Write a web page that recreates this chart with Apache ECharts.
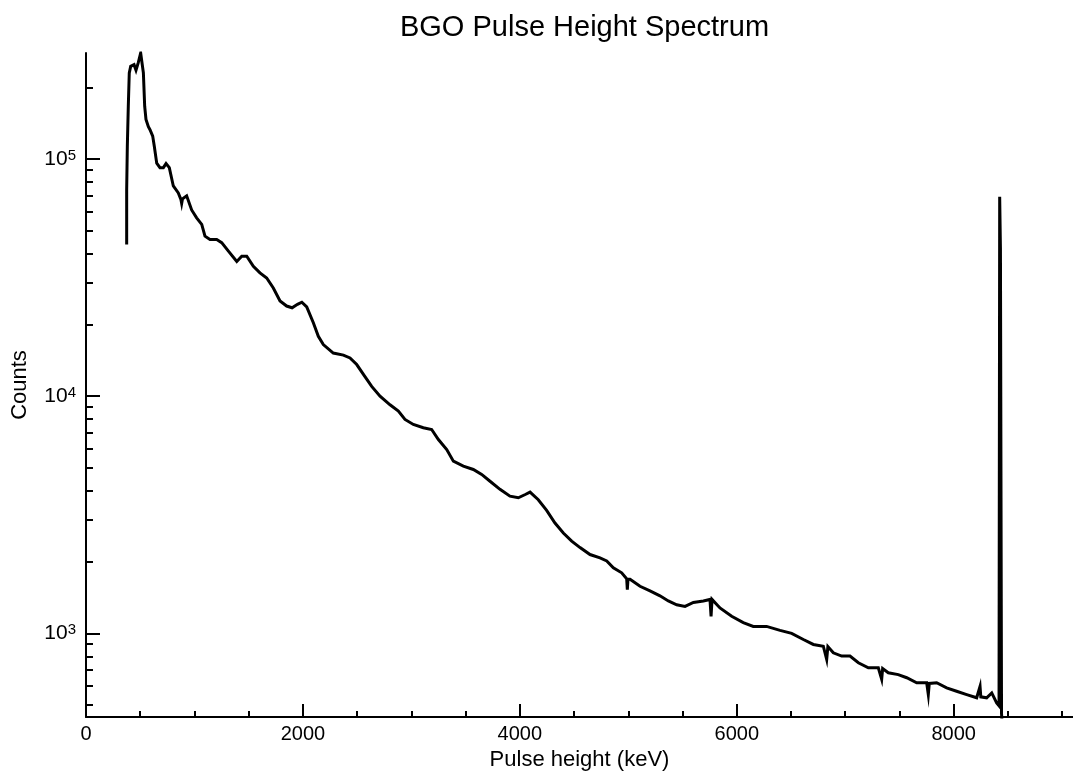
<!DOCTYPE html>
<html>
<head>
<meta charset="utf-8">
<title>BGO Pulse Height Spectrum</title>
<script src="https://cdn.jsdelivr.net/npm/echarts@6/dist/echarts.min.js"></script>
<style>
  html, body { margin: 0; padding: 0; background: #ffffff; }
  #chart { width: 1073px; height: 771px; }
</style>
</head>
<body>
<div id="chart"></div>
<script>
// Pulse-height bins (keV) and their counts
const energies = [
  375, 375, 381, 390, 399, 412, 421, 443, 461, 482, 504, 516, 529, 541, 553, 575, 590, 615, 630, 652,
  682, 713, 738, 768, 805, 851, 875, 882, 890, 928, 974, 1020, 1067, 1097, 1143, 1205, 1251, 1313, 1390, 1436,
  1482, 1543, 1604, 1666, 1727, 1789, 1850, 1900, 1950, 1990, 2035, 2096, 2142, 2188, 2280, 2373, 2434, 2496, 2572, 2634,
  2711, 2803, 2880, 2941, 3018, 3110, 3187, 3249, 3326, 3387, 3479, 3571, 3648, 3725, 3817, 3909, 3986, 4050, 4094, 4170,
  4247, 4324, 4401, 4478, 4555, 4647, 4739, 4801, 4862, 4939, 4985, 4991, 4997, 5016, 5108, 5200, 5292, 5369, 5446, 5523,
  5600, 5692, 5753, 5763, 5772, 5845, 5953, 6060, 6152, 6275, 6399, 6506, 6614, 6706, 6798, 6829, 6840, 6890, 6967, 7044,
  7121, 7213, 7305, 7336, 7345, 7397, 7489, 7567, 7659, 7751, 7766, 7775, 7843, 7935, 8027, 8120, 8212, 8243, 8250, 8304,
  8351, 8396, 8418, 8424, 8431, 8438, 8441, 8452
];
const counts = [
  43600, 74000, 113000, 167000, 231000, 246000, 250000, 250000, 237000, 255000, 280000, 282000, 231000, 167000, 147000, 137000, 133000, 125000, 113000, 96000,
  92000, 92000, 95700, 92000, 77000, 72000, 67500, 65000, 68000, 70000, 61000, 56500, 53000, 47300, 45800, 45800, 44400, 40900, 37000, 38900,
  38900, 35300, 33100, 31500, 28600, 25200, 24000, 23600, 24400, 24900, 23800, 20400, 17900, 16500, 15200, 14900, 14500, 13600, 12100, 11000,
  10000, 9200, 8650, 7980, 7600, 7360, 7240, 6570, 5960, 5320, 5070, 4910, 4680, 4380, 4050, 3790, 3730, 3850, 3940, 3660,
  3300, 2920, 2650, 2450, 2300, 2150, 2080, 2020, 1890, 1800, 1700, 1530, 1690, 1690, 1580, 1510, 1440, 1370, 1320, 1300,
  1350, 1370, 1390, 1180, 1390, 1280, 1180, 1110, 1070, 1070, 1030, 1000, 942, 898, 883, 776, 880, 828, 802, 802,
  752, 716, 716, 640, 710, 682, 670, 650, 619, 619, 552, 615, 619, 589, 570, 552, 535, 598, 540, 535,
  561, 509, 495, 69300, 42000, 42000, 460, 380
];

// Axis ticks
const xMajorTicks = [0, 2000, 4000, 6000, 8000];
const xMinorTicks = [500, 1000, 1500, 2500, 3000, 3500, 4500, 5000, 5500, 6500, 7000, 7500, 8500, 9000];
const yMajorTicks = [1000, 10000, 100000];
const yMinorTicks = [
  500, 600, 700, 800, 900,
  2000, 3000, 4000, 5000, 6000, 7000, 8000, 9000,
  20000, 30000, 40000, 50000, 60000, 70000, 80000, 90000,
  200000
];

const FONT = '"Liberation Sans", Arial, Helvetica, sans-serif';
const X_RANGE = [0, 9100];
const Y_RANGE = [444, 280000];
const ink = '#000000';
const lineStyle = { color: ink, width: 2 };

const chart = echarts.init(document.getElementById('chart'), null, { renderer: 'canvas' });

chart.setOption({
  animation: false,
  backgroundColor: '#ffffff',
  title: {
    text: 'BGO Pulse Height Spectrum',
    left: 579.5,
    textAlign: 'center',
    top: 8,
    textStyle: { fontFamily: FONT, fontSize: 29, fontWeight: 'normal', color: ink }
  },
  grid: { left: 86, right: 0, top: 53, bottom: 54, containLabel: false, outerBoundsMode: 'none' },
  xAxis: [
    {
      type: 'value', position: 'bottom', min: X_RANGE[0], max: X_RANGE[1],
      name: 'Pulse height (keV)', nameLocation: 'middle', nameGap: 23,
      nameTextStyle: { fontFamily: FONT, fontSize: 22, color: ink },
      axisLine: { show: true, onZero: false, lineStyle: lineStyle },
      axisTick: { show: true, inside: true, length: 13, customValues: xMajorTicks, lineStyle: lineStyle },
      axisLabel: {
        show: true, customValues: xMajorTicks, margin: 7,
        fontFamily: FONT, fontSize: 20, color: ink,
        formatter: function (v) { return String(v); }
      },
      splitLine: { show: false }
    },
    {
      type: 'value', position: 'bottom', min: X_RANGE[0], max: X_RANGE[1],
      axisLine: { show: false, onZero: false },
      axisTick: { show: true, inside: true, length: 6, customValues: xMinorTicks, lineStyle: lineStyle },
      axisLabel: { show: false },
      splitLine: { show: false }
    }
  ],
  yAxis: [
    {
      type: 'log', logBase: 10, position: 'left', min: Y_RANGE[0], max: Y_RANGE[1],
      name: 'Counts', nameLocation: 'middle', nameGap: 55, nameRotate: 90,
      nameTextStyle: { fontFamily: FONT, fontSize: 22, color: ink },
      axisLine: { show: true, onZero: false, lineStyle: lineStyle },
      axisTick: { show: true, inside: true, length: 14, customValues: yMajorTicks, lineStyle: lineStyle },
      axisLabel: {
        show: true, customValues: yMajorTicks, margin: 10,
        formatter: function (v) { return '{b|10}{s|' + Math.round(Math.log10(v)) + '}'; },
        rich: {
          b: { fontFamily: FONT, fontSize: 21, color: ink, lineHeight: 22 },
          s: { fontFamily: FONT, fontSize: 15, color: ink, lineHeight: 15, verticalAlign: 'top' }
        }
      },
      splitLine: { show: false }
    },
    {
      type: 'log', logBase: 10, position: 'left', min: Y_RANGE[0], max: Y_RANGE[1],
      axisLine: { show: false, onZero: false },
      axisTick: { show: true, inside: true, length: 7, customValues: yMinorTicks, lineStyle: lineStyle },
      axisLabel: { show: false },
      splitLine: { show: false }
    }
  ],
  series: [
    {
      type: 'line',
      xAxisIndex: 0,
      yAxisIndex: 0,
      data: energies.map(function (e, i) { return [e, counts[i]]; }),
      symbol: 'none',
      showSymbol: false,
      clip: true,
      lineStyle: { color: ink, width: 3, join: 'miter' }
    }
  ]
});
</script>
</body>
</html>
